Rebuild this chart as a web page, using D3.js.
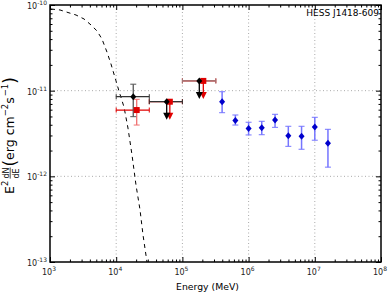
<!DOCTYPE html>
<meta charset="utf-8">
<script src="https://d3js.org/d3.v7.min.js"></script>
<style>
  body { margin: 0; background: #fff; }
  text { font-family: "DejaVu Sans", sans-serif; }
</style>
<body>
<div id="chart"></div>
<script>
// model curve (dashed)
const modelE = [1035, 1416, 1871, 2472, 3266, 4159, 5129, 6095, 7261, 8337, 9931,
                11015, 13122, 15066, 17338, 19907, 22909, 25410, 29174];
const modelF = [8.97e-11, 8.75e-11, 8.17e-11, 7.64e-11, 6.87e-11, 5.85e-11, 4.98e-11,
                4.01e-11, 2.82e-11, 2.05e-11, 1.30e-11, 9.91e-12, 6.44e-12, 3.66e-12,
                1.77e-12, 7.92e-13, 4.05e-13, 2.07e-13, 1.0e-13];

// HESS points (blue)
const hessE  = [3.98e5, 6.31e5, 1.0e6, 1.58e6, 2.51e6, 3.98e6, 6.31e6, 1.0e7, 1.58e7];
const hessF  = [7.43e-12, 4.47e-12, 3.62e-12, 3.70e-12, 4.55e-12, 2.98e-12, 2.93e-12, 3.77e-12, 2.43e-12];
const hessHi = [9.72e-12, 5.20e-12, 4.28e-12, 4.39e-12, 5.30e-12, 3.84e-12, 3.84e-12, 4.89e-12, 3.54e-12];
const hessLo = [5.53e-12, 3.97e-12, 3.04e-12, 3.06e-12, 3.73e-12, 2.24e-12, 2.07e-12, 2.64e-12, 1.28e-12];

// Fermi points, black set
const blackE   = [1.81e4, 5.79e4, 1.80e5];
const blackF   = [8.51e-12, 7.43e-12, 1.30e-11];
const blackXlo = [1.0e4, 3.16e4, 1.0e5];
const blackXhi = [3.16e4, 1.0e5, 3.2e5];
const blackLo  = [4.97e-12, null, null];
const blackHi  = [1.19e-11, null, null];
const blackUL  = [false, true, true];

// Fermi points, red set
const redE   = [2.04e4, 6.46e4, 2.07e5];
const redF   = [5.94e-12, 7.43e-12, 1.30e-11];
const redXlo = [1.0e4, 3.16e4, 1.0e5];
const redXhi = [3.16e4, 1.0e5, 3.2e5];
const redLo  = [3.97e-12, null, null];
const redHi  = [7.93e-12, null, null];
const redUL  = [false, true, true];

const xDecades = [3, 4, 5, 6, 7, 8];
const yDecades = [-13, -12, -11, -10];
const title = "HESS J1418-609";

const margin = {top: 5, right: 9, bottom: 33, left: 50},
      width = 390 - margin.left - margin.right,
      height = 295 - margin.top - margin.bottom;

const svg = d3.select("#chart").append("svg")
    .attr("width", 390).attr("height", 295)
  .append("g")
    .attr("transform", `translate(${margin.left},${margin.top})`);

const x = d3.scaleLog().domain([1e3, 1e8]).range([0, width]);
const y = d3.scaleLog().domain([1e-13, 1e-10]).range([height, 0]);

// grid
svg.append("g").selectAll("line")
  .data(xDecades.slice(1, -1))
  .join("line")
    .attr("x1", d => x(10 ** d)).attr("x2", d => x(10 ** d))
    .attr("y1", 0).attr("y2", height)
    .attr("stroke", "#aaa").attr("stroke-dasharray", "1,2.5");
svg.append("g").selectAll("line")
  .data(yDecades.slice(1, -1))
  .join("line")
    .attr("y1", d => y(10 ** d)).attr("y2", d => y(10 ** d))
    .attr("x1", 0).attr("x2", width)
    .attr("stroke", "#aaa").attr("stroke-dasharray", "1,2.5");

// ticks on all four sides
const xMajor = xDecades.map(d => 10 ** d);
const yMajor = yDecades.map(d => 10 ** d);
const xMinor = xDecades.slice(0, -1).flatMap(d => d3.range(2, 10).map(m => m * 10 ** d));
const yMinor = yDecades.slice(0, -1).flatMap(d => d3.range(2, 10).map(m => m * 10 ** d));

const tickAxis = (axis, vals, size, tr) => {
  svg.append("g").attr("transform", tr)
    .call(axis.tickValues(vals).tickSize(size).tickFormat(""))
    .call(g => g.select(".domain").remove())
    .call(g => g.selectAll("line").attr("stroke", "#000"));
};
tickAxis(d3.axisBottom(x), xMajor, -5, `translate(0,${height})`);
tickAxis(d3.axisBottom(x), xMinor, -2.5, `translate(0,${height})`);
tickAxis(d3.axisTop(x), xMajor, -5, "translate(0,0)");
tickAxis(d3.axisTop(x), xMinor, -2.5, "translate(0,0)");
tickAxis(d3.axisLeft(y), yMajor, -5, "translate(0,0)");
tickAxis(d3.axisLeft(y), yMinor, -2.5, "translate(0,0)");
tickAxis(d3.axisRight(y), yMajor, -5, `translate(${width},0)`);
tickAxis(d3.axisRight(y), yMinor, -2.5, `translate(${width},0)`);

// tick labels 10^n
const xl = svg.append("g").selectAll("text")
  .data(xDecades)
  .join("text")
    .attr("x", d => x(10 ** d) - 1)
    .attr("y", height + 13)
    .attr("text-anchor", "middle")
    .attr("font-size", 8)
    .attr("fill", "#222");
xl.append("tspan").text("10");
xl.append("tspan").attr("dy", -4).attr("font-size", 6).text(d => d);

const yl = svg.append("g").selectAll("text")
  .data(yDecades)
  .join("text")
    .attr("x", -3)
    .attr("y", d => y(10 ** d) + 4)
    .attr("text-anchor", "end")
    .attr("font-size", 8)
    .attr("fill", "#222");
yl.append("tspan").text("10");
yl.append("tspan").attr("dy", -4).attr("font-size", 6).text(d => d);

// model curve
const line = d3.line().x(d => x(d[0])).y(d => y(d[1]));
svg.append("path")
  .datum(d3.zip(modelE, modelF))
  .attr("d", line)
  .attr("fill", "none")
  .attr("stroke", "#000")
  .attr("stroke-width", 1)
  .attr("stroke-dasharray", "4,4");

const diamond = (g, cx, cy, color) => g.append("path")
  .attr("d", `M${cx},${cy - 3.5}L${cx + 3},${cy}L${cx},${cy + 3.5}L${cx - 3},${cy}Z`)
  .attr("fill", color);

const vbar = (g, cx, y0, y1, color, w) => {
  g.append("line").attr("x1", cx).attr("x2", cx).attr("y1", y0).attr("y2", y1)
    .attr("stroke", color).attr("stroke-width", w);
  [y0, y1].forEach(yy => g.append("line")
    .attr("x1", cx - 3).attr("x2", cx + 3).attr("y1", yy).attr("y2", yy)
    .attr("stroke", color).attr("stroke-width", 1));
};
const hbar = (g, x0, x1, cy, color) => {
  g.append("line").attr("x1", x0).attr("x2", x1).attr("y1", cy).attr("y2", cy)
    .attr("stroke", color).attr("stroke-width", 1.3);
  [x0, x1].forEach(xx => g.append("line")
    .attr("x1", xx).attr("x2", xx).attr("y1", cy - 2.5).attr("y2", cy + 2.5)
    .attr("stroke", color).attr("stroke-width", 1));
};
const arrow = (g, cx, cy, color) => {
  g.append("line").attr("x1", cx).attr("x2", cx).attr("y1", cy).attr("y2", cy + 12)
    .attr("stroke", color).attr("stroke-width", 1.3);
  g.append("path")
    .attr("d", `M${cx - 3.5},${cy + 11}L${cx + 3.5},${cy + 11}L${cx},${cy + 18}Z`)
    .attr("fill", color);
};

// red set
const gr = svg.append("g");
redE.forEach((e, i) => {
  const cx = x(e), cy = y(redF[i]);
  hbar(gr, x(redXlo[i]), x(redXhi[i]), cy, "#e00000");
  if (redLo[i] !== null) vbar(gr, cx, y(redHi[i]), y(redLo[i]), "#f07070", 1.3);
  if (redUL[i]) arrow(gr, cx, cy, "#e00000");
});

// black set
const gb = svg.append("g");
blackE.forEach((e, i) => {
  const cx = x(e), cy = y(blackF[i]);
  hbar(gb, x(blackXlo[i]), x(blackXhi[i]), cy, i === 2 ? "#9a8080" : "#333");
  if (blackLo[i] !== null) vbar(gb, cx, y(blackHi[i]), y(blackLo[i]), "#555", 1.3);
  if (blackUL[i]) arrow(gb, cx, cy, "#000");
});
redE.forEach((e, i) => {
  const cx = x(e), cy = y(redF[i]);
  gb.append("rect").attr("x", cx - 3).attr("y", cy - 3).attr("width", 6).attr("height", 6)
    .attr("fill", "#e00000");
});
blackE.forEach((e, i) => diamond(gb, x(e), y(blackF[i]), "#000"));

// HESS set
const gh = svg.append("g");
hessE.forEach((e, i) => {
  vbar(gh, x(e), y(hessHi[i]), y(hessLo[i]), "#7575ff", 1.5);
  diamond(gh, x(e), y(hessF[i]), "#0000cc");
});

// frame
svg.append("rect")
  .attr("width", width).attr("height", height)
  .attr("fill", "none").attr("stroke", "#000").attr("stroke-width", 1.5);

// title
svg.append("text")
  .attr("x", width - 2).attr("y", 11)
  .attr("text-anchor", "end")
  .attr("font-size", 9)
  .text(title);

// x label
svg.append("text")
  .attr("x", width / 2 - 8).attr("y", height + 28)
  .attr("text-anchor", "middle")
  .attr("font-size", 9.3)
  .text("Energy (MeV)");

// y label built piece by piece
const yg = svg.append("g");
let cur = 0;
const piece = (txt, size, dy) => {
  const t = yg.append("text").attr("x", cur).attr("y", dy).attr("font-size", size).text(txt);
  cur += t.node().getComputedTextLength();
  return t;
};
piece("E", 12.5, 0);
piece("2", 8.5, -6);
cur += 2;
const f0 = cur;
const tN = yg.append("text").attr("x", f0).attr("y", -5.5).attr("font-size", 8).text("dN");
const tE = yg.append("text").attr("x", f0).attr("y", 5).attr("font-size", 8).text("dE");
const fw = Math.max(tN.node().getComputedTextLength(), tE.node().getComputedTextLength());
yg.append("line").attr("x1", f0).attr("x2", f0 + fw).attr("y1", -3.8).attr("y2", -3.8)
  .attr("stroke", "#000").attr("stroke-width", 0.7);
cur += fw + 1;
piece("(", 17, 2);
piece("erg cm", 12.5, 0);
piece("\u22122", 8.5, -6);
piece(" s", 12.5, 0);
cur += 1;
piece("\u22121", 8.5, -6);
piece(")", 17, 2);
yg.attr("transform", `translate(${-36},${height / 2 + 2 + cur / 2}) rotate(-90)`);
</script>
</body>
